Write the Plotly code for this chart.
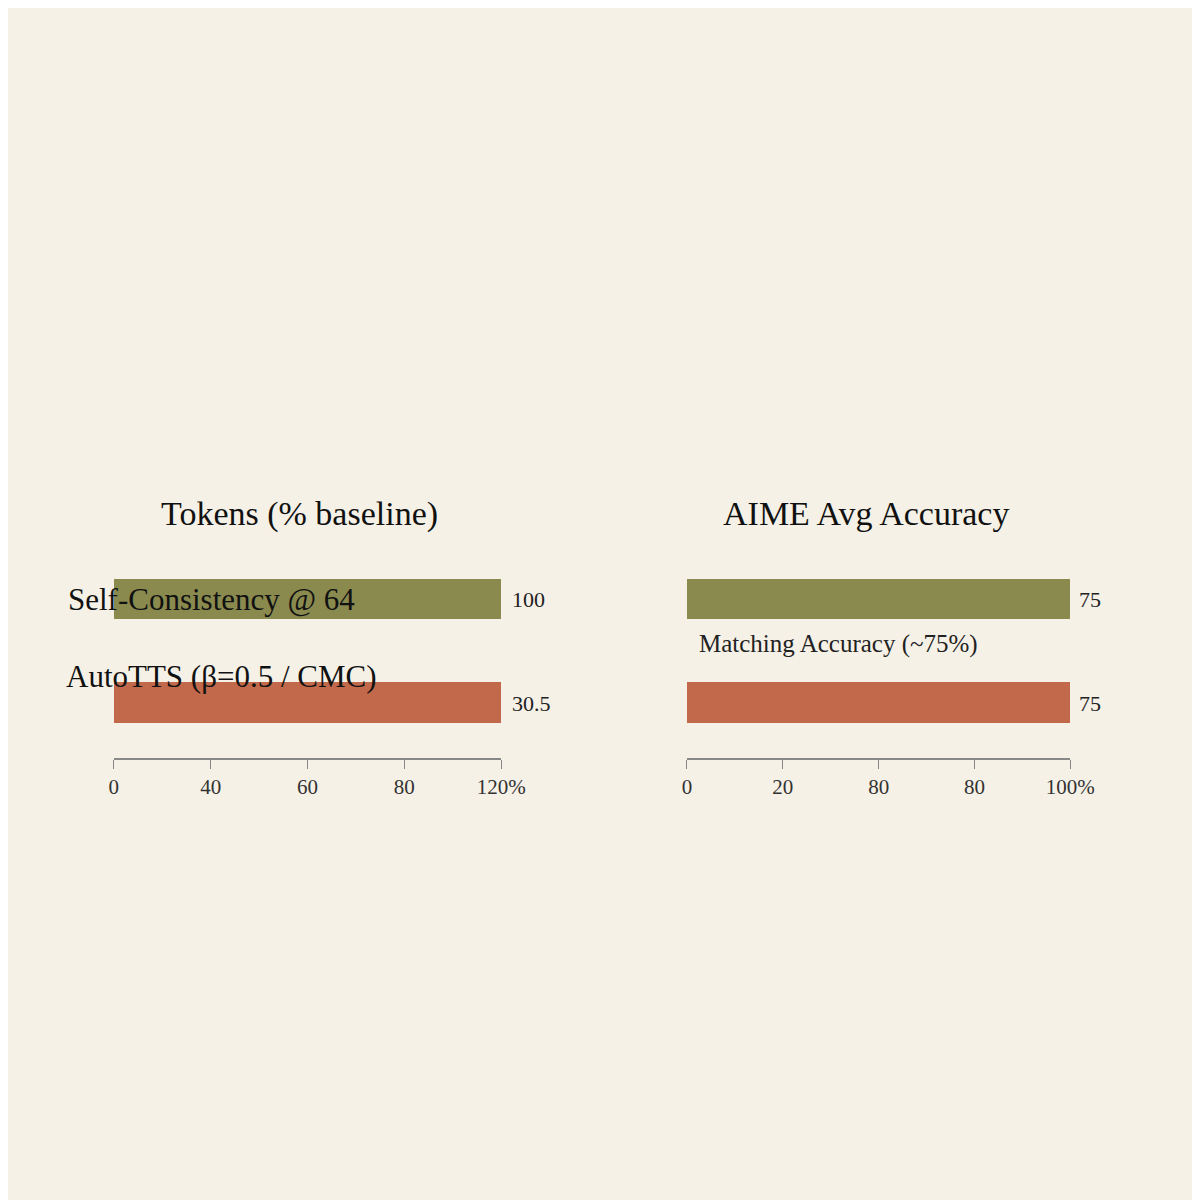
import plotly.graph_objects as go

# data
methods = ["Self-Consistency @ 64", "AutoTTS (β=0.5 / CMC)"]
token_bar_lengths = [100, 100]        # drawn length of the bars as shown
token_labels = ["100", "30.5"]
token_tick_vals = [0, 25, 50, 75, 100]
token_tick_text = ["0", "40", "60", "80", "120%"]

acc_values = [75, 75]
acc_labels = ["75", "75"]
acc_tick_vals = [0, 18.75, 37.5, 56.25, 75]
acc_tick_text = ["0", "20", "80", "80", "100%"]
acc_note = "Matching Accuracy (~75%)"

colors = ["#8a8a4f", "#c2694b"]
bg = "#f6f1e7"
font_family = "Liberation Serif"


# page pixel -> paper fraction (page has an 8px body margin)
def px(v):
    return (v - 8) / 1184


def py(v):
    return 1 - (v - 8) / 1184


fig = go.Figure()
ypos = [0, 1]

fig.add_trace(go.Bar(x=token_bar_lengths, y=ypos, orientation="h", width=0.39,
                     marker=dict(color=colors, line=dict(width=0)),
                     xaxis="x", yaxis="y", showlegend=False, hoverinfo="skip"))
fig.add_trace(go.Bar(x=acc_values, y=ypos, orientation="h", width=0.39,
                     marker=dict(color=colors, line=dict(width=0)),
                     xaxis="x2", yaxis="y2", showlegend=False, hoverinfo="skip"))

xcommon = dict(showgrid=False, zeroline=False, showline=True, linecolor="#888",
               linewidth=1.5, ticks="outside", ticklen=9, tickcolor="#888",
               tickfont=dict(size=21, color="#333", family=font_family))
ycommon = dict(showgrid=False, zeroline=False, showticklabels=False,
               range=[1.53, -0.31], domain=[py(748), py(560)])

annotations = []
for i in range(2):
    annotations.append(dict(x=token_bar_lengths[i], y=ypos[i], xref="x", yref="y",
                            text=token_labels[i], showarrow=False, xanchor="left",
                            xshift=9, font=dict(size=22, color="#222", family=font_family)))
    annotations.append(dict(x=acc_values[i], y=ypos[i], xref="x2", yref="y2",
                            text=acc_labels[i], showarrow=False, xanchor="left",
                            xshift=7, font=dict(size=22, color="#222", family=font_family)))

annotations += [
    dict(x=px(298), y=py(507), xref="paper", yref="paper", text="Tokens (% baseline)",
         showarrow=False, xanchor="center", font=dict(size=34, color="#111", family=font_family)),
    dict(x=px(871), y=py(507), xref="paper", yref="paper", text="AIME Avg Accuracy",
         showarrow=False, xanchor="center", font=dict(size=34, color="#111", family=font_family)),
    dict(x=px(62), y=py(592), xref="paper", yref="paper", text=methods[0],
         showarrow=False, xanchor="left", font=dict(size=31, color="#111", family=font_family)),
    dict(x=px(60), y=py(668), xref="paper", yref="paper", text=methods[1],
         showarrow=False, xanchor="left", font=dict(size=31, color="#111", family=font_family)),
    dict(x=px(700), y=py(636), xref="paper", yref="paper", text=acc_note,
         showarrow=False, xanchor="left", font=dict(size=25, color="#222", family=font_family)),
]

fig.update_layout(
    width=1200, height=1200, paper_bgcolor=bg, plot_bgcolor=bg,
    margin=dict(l=0, r=0, t=0, b=0), bargap=0,
    xaxis=dict(domain=[px(110), px(502)], range=[0, 100], anchor="y",
               tickvals=token_tick_vals, ticktext=token_tick_text, **xcommon),
    yaxis=dict(anchor="x", **ycommon),
    xaxis2=dict(domain=[px(690), px(1078)], range=[0, 75], anchor="y2",
                tickvals=acc_tick_vals, ticktext=acc_tick_text, **xcommon),
    yaxis2=dict(anchor="x2", **ycommon),
    annotations=annotations,
)

fig.write_html("out.html")
